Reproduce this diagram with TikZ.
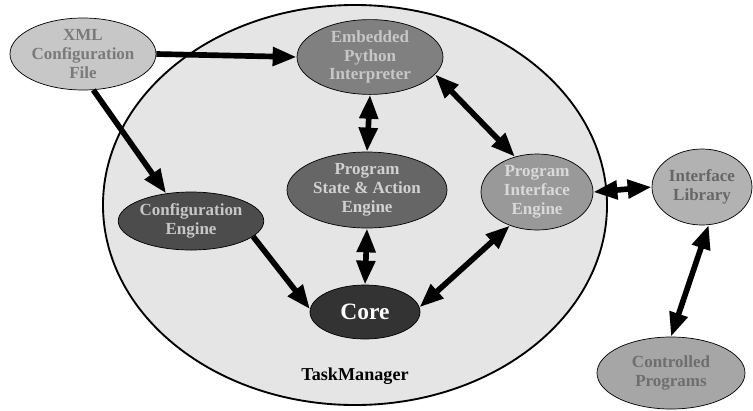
\documentclass[tikz,border=0pt]{standalone}
\usepackage{fontspec}
\setmainfont{Liberation Serif}
\usepackage{xcolor}
\usepackage{tikz}
\usetikzlibrary{arrows.meta,shapes.geometric}
\definecolor{shellfill}{HTML}{E5E5E5}
\tikzset{
  blob/.style={ellipse, draw=black, line width=0.6pt, inner sep=0pt, align=center,
    font=\bfseries\fontsize{14.5}{16}\selectfont},
  flow/.style={-{Triangle[length=0.72cm,width=0.54cm]}, line width=0.17cm},
  bothflow/.style={{Triangle[length=0.72cm,width=0.54cm]}-{Triangle[length=0.72cm,width=0.54cm]}, line width=0.17cm},
}

\begin{document}
\begin{tikzpicture}[x=0.03cm,y=-0.03cm]
\useasboundingbox (0,0) rectangle (753,410);
% the task manager shell
\node[ellipse, draw=black, line width=1.6pt, fill=shellfill, minimum width=15.12cm, minimum height=12cm] (shell) at (355,205) {};
\node[font=\bfseries\fontsize{15.5}{17}\selectfont] (tmlabel) at (355,376) {TaskManager};

\node[blob, fill=black!22, text=black!52, minimum width=4.38cm, minimum height=2.16cm] (xml) at (83,54) {XML\\Configuration\\File};
\node[blob, fill=black!50, text=black!22, minimum width=4.38cm, minimum height=2.16cm] (epi) at (370,57) {Embedded\\Python\\Interpreter};
\node[blob, fill=black!60, text=black!18, minimum width=4.8cm, minimum height=2.28cm] (psae) at (367,190) {Program\\State \& Action\\Engine};
\node[blob, fill=black!70, text=black!22, minimum width=4.32cm, minimum height=1.74cm] (cfg) at (191,221) {Configuration\\Engine};
\node[blob, fill=black!80, text=white, minimum width=3.3cm, minimum height=1.62cm,
  font=\bfseries\fontsize{20}{22}\selectfont] (core) at (365,312) {Core};
\node[blob, fill=black!40, text=black!15, minimum width=3.36cm, minimum height=2.28cm] (pie) at (537,192) {Program\\Interface\\Engine};
\node[blob, fill=black!30, text=black!60, minimum width=3cm, minimum height=2.28cm] (lib) at (702,187) {Interface\\Library};
\node[blob, fill=black!35, text=black!57, minimum width=4.44cm, minimum height=2.16cm] (ctrl) at (671,373) {Controlled\\Programs};

% connectors
\draw[flow] (xml.east) -- (epi.west);
\draw[flow] (xml.-74) -- (cfg.132);
\draw[flow] (cfg.-14) -- (core.177);
\draw[bothflow] (epi.south) -- (psae.north);
\draw[bothflow] (psae.south) -- (core.north);
\draw[bothflow] (epi.-15) -- (pie.122);
\draw[bothflow] (core.5) -- (pie.-129);
\draw[bothflow] (pie.east) -- (lib.west);
\draw[bothflow] (lib.-80) -- (ctrl.north);
\end{tikzpicture}
\end{document}
